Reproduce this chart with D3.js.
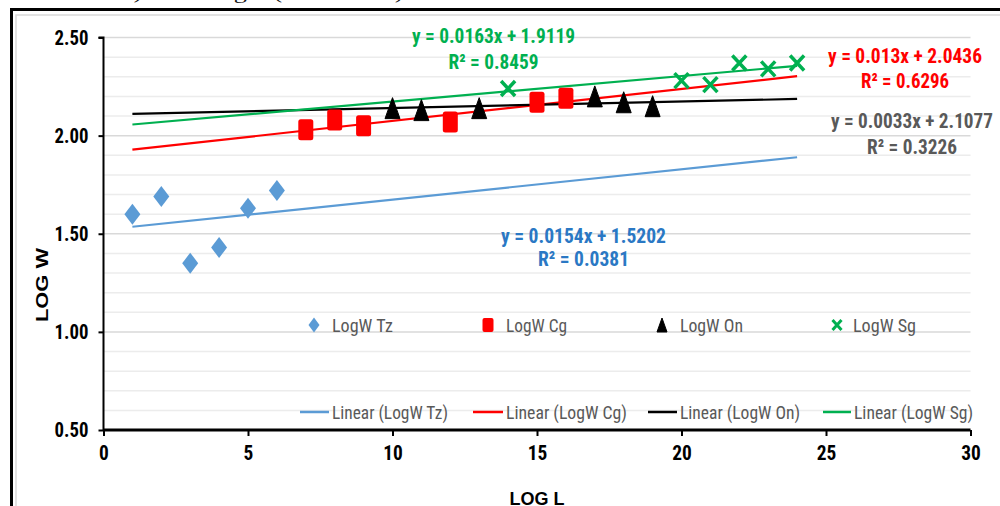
<!DOCTYPE html>
<html><head><meta charset="utf-8">
<script src="https://cdn.jsdelivr.net/npm/d3@7"></script>
<style>body{margin:0;background:#fff;overflow:hidden;} svg{display:block;}</style>
</head><body><svg id="c" width="1000" height="506"></svg>
<script>
// ---- data ----
const seriesNames = ["LogW Tz", "LogW Cg", "LogW On", "LogW Sg"];
const tzX = [1, 2, 3, 4, 5, 6];
const tzY = [1.60, 1.69, 1.35, 1.43, 1.63, 1.72];
const cgX = [7, 8, 9, 12, 15, 16];
const cgY = [2.03, 2.08, 2.05, 2.07, 2.17, 2.19];
const onX = [10, 11, 13, 17, 18, 19];
const onY = [2.14, 2.13, 2.14, 2.20, 2.17, 2.15];
const sgX = [14, 20, 21, 22, 23, 24];
const sgY = [2.24, 2.28, 2.26, 2.37, 2.34, 2.37];
// trendlines as drawn
const trendSlope = [0.0154, 0.0163, 0.0033, 0.013];
const trendIntercept = [1.5202, 1.9119, 2.1077, 2.0436];
const trendRange = [1, 24];
// equation labels
const eqLine = ["y = 0.0154x + 1.5202", "y = 0.013x + 2.0436", "y = 0.0033x + 2.1077", "y = 0.0163x + 1.9119"];
const r2Line = ["R² = 0.0381", "R² = 0.6296", "R² = 0.3226", "R² = 0.8459"];
const xTicks = [0, 5, 10, 15, 20, 25, 30];
const yTicks = [0.50, 1.00, 1.50, 2.00, 2.50];
const xTitle = "LOG L", yTitle = "LOG W";

// ---- styles ----
const colors = ["#5b9bd5", "#ff0000", "#000000", "#00b050"];
const eqColors = ["#2a78c4", "#ff0000", "#595959", "#00b050"];
const NARROW = "'Liberation Sans Narrow','Arial Narrow','Roboto Condensed','Liberation Sans',Arial,sans-serif";

const svg = d3.select("#c");
const x = d3.scaleLinear().domain([0, 30]).range([103.5, 970.5]);
const y = d3.scaleLinear().domain([0.5, 2.5]).range([430, 37.5]);

// top cut-off caption (only its lower edge shows)
svg.append("text").attr("x", 40).attr("y", -1).attr("font-family", "'Liberation Serif',serif")
  .attr("font-size", 17).attr("fill", "#111").attr("textLength", 370).attr("lengthAdjust", "spacingAndGlyphs")
  .text("Station 3) and Length (all stations).");

// frames
svg.append("path").attr("d", "M11.5,506 V9.5 H1000").attr("fill", "none").attr("stroke", "#000").attr("stroke-width", 3);
svg.append("path").attr("d", "M16,506 V15 H1000").attr("fill", "none").attr("stroke", "#d9d9d9").attr("stroke-width", 1.5);

// gridlines
const grid = d3.range(5, 26).map(d => d / 10);
svg.append("g").selectAll("line").data(grid).join("line")
  .attr("x1", x(0)).attr("x2", x(30))
  .attr("y1", d => y(d)).attr("y2", d => y(d))
  .attr("stroke", d => (Math.round(d * 10) % 5 === 0) ? "#d9d9d9" : "#ececec")
  .attr("stroke-width", 1.5);

const tickLen = s => s.split("").reduce((a, c) => a + (c === "." ? 4.5 : 9.8), 0);

// axes
const yAxis = d3.axisLeft(y).tickValues(yTicks).tickFormat(d3.format(".2f")).tickSize(5).tickPadding(10);
const gy = svg.append("g").attr("transform", `translate(${x(0)},0)`).call(yAxis);
gy.select(".domain").attr("stroke", "#000").attr("stroke-width", 2).attr("d", `M-5,${y(2.5)}H0V${y(0.5)}`);
gy.selectAll(".tick line").attr("stroke", "#000").attr("stroke-width", 2);
gy.selectAll(".tick text").attr("font-family", NARROW).attr("font-weight", "bold").attr("font-size", 21).attr("fill", "#000")
  .attr("textLength", function () { return tickLen(this.textContent); }).attr("lengthAdjust", "spacingAndGlyphs");

const xAxis = d3.axisBottom(x).tickValues(xTicks).tickFormat(d3.format("d")).tickSize(6).tickPadding(9);
const gx = svg.append("g").attr("transform", `translate(0,${y(0.5)})`).call(xAxis);
gx.select(".domain").attr("stroke", "#000").attr("stroke-width", 3).attr("d", `M${x(0)},0H${x(30)}`);
gx.selectAll(".tick line").attr("stroke", "#000").attr("stroke-width", 2);
gx.selectAll(".tick text").attr("font-family", NARROW).attr("font-weight", "bold").attr("font-size", 21).attr("fill", "#000")
  .attr("textLength", function () { return tickLen(this.textContent); }).attr("lengthAdjust", "spacingAndGlyphs");

// axis titles
svg.append("text").attr("transform", "translate(48,285) rotate(-90)").attr("text-anchor", "middle")
  .attr("font-family", "'Liberation Sans',Arial,sans-serif").attr("font-weight", "bold").attr("font-size", 17)
  .attr("textLength", 74).attr("lengthAdjust", "spacingAndGlyphs").text(yTitle);
svg.append("text").attr("x", (x(0) + x(30)) / 2).attr("y", 505).attr("text-anchor", "middle")
  .attr("font-family", "'Liberation Sans',Arial,sans-serif").attr("font-weight", "bold").attr("font-size", 18)
  .text(xTitle);

// trendlines
const trends = trendSlope.map((m, i) => ({ m, b: trendIntercept[i], c: colors[i] }));
svg.append("g").selectAll("line").data(trends).join("line")
  .attr("x1", x(trendRange[0])).attr("x2", x(trendRange[1]))
  .attr("y1", d => y(d.m * trendRange[0] + d.b)).attr("y2", d => y(d.m * trendRange[1] + d.b))
  .attr("stroke", d => d.c).attr("stroke-width", 2.2);

// marker shapes
function diamond(w, h) { return `M0,${-h/2}L${w/2},0L0,${h/2}L${-w/2},0Z`; }
function tri(w, h) { return `M0,${-h/2}L${w/2},${h/2}L${-w/2},${h/2}Z`; }
function cross(w, h) { return `M${-w/2},${-h/2}L${w/2},${h/2}M${w/2},${-h/2}L${-w/2},${h/2}`; }

const pts = (xs, ys) => xs.map((v, i) => ({ x: v, y: ys[i] }));
const g = svg.append("g");
g.selectAll(".tz").data(pts(tzX, tzY)).join("path").attr("class", "tz")
  .attr("transform", d => `translate(${x(d.x)},${y(d.y)})`).attr("d", diamond(16, 21)).attr("fill", colors[0]);
g.selectAll(".cg").data(pts(cgX, cgY)).join("rect").attr("class", "cg")
  .attr("x", d => x(d.x) - 7.5).attr("y", d => y(d.y) - 10.5).attr("width", 15).attr("height", 21)
  .attr("rx", 2.5).attr("fill", colors[1]);
g.selectAll(".on").data(pts(onX, onY)).join("path").attr("class", "on")
  .attr("transform", d => `translate(${x(d.x)},${y(d.y)})`).attr("d", tri(15, 21)).attr("fill", colors[2])
  .attr("stroke", "#000").attr("stroke-width", 1).attr("stroke-linejoin", "round");
g.selectAll(".sg").data(pts(sgX, sgY)).join("path").attr("class", "sg")
  .attr("transform", d => `translate(${x(d.x)},${y(d.y)})`).attr("d", cross(14, 15)).attr("fill", "none")
  .attr("stroke", colors[3]).attr("stroke-width", 3.5);

// equation labels
const eqPos = [[583.5, 243, 266, 165, 91], [905, 63, 88, 154, 88], [912, 128, 154, 162, 90], [493.5, 43, 69, 163, 90]];
eqLine.forEach((t, i) => {
  const [cx, b1, b2, w1, w2] = eqPos[i];
  [[t, b1, w1], [r2Line[i], b2, w2]].forEach(([s, by, w]) => {
    svg.append("text").attr("x", cx).attr("y", by).attr("text-anchor", "middle")
      .attr("font-family", NARROW).attr("font-weight", "bold").attr("font-size", 21).attr("fill", eqColors[i])
      .attr("textLength", w).attr("lengthAdjust", "spacingAndGlyphs").text(s);
  });
});

// legend
const legX = [314, 488, 662, 837];
const legTxtX = [332, 506, 680, 853];
const legW1 = [61, 61, 63, 63];
const legLineX = [[300, 329], [473, 503], [648, 677], [823, 851]];
const legTxt2X = [332, 506, 680, 854];
const legW2 = [116, 121, 120, 119];
const lg = svg.append("g");
seriesNames.forEach((n, i) => {
  const mx = legX[i], my = 325;
  if (i === 0) lg.append("path").attr("transform", `translate(${mx},${my})`).attr("d", diamond(11, 15)).attr("fill", colors[0]);
  if (i === 1) lg.append("rect").attr("x", mx - 5.5).attr("y", my - 7).attr("width", 11).attr("height", 14).attr("rx", 2).attr("fill", colors[1]);
  if (i === 2) lg.append("path").attr("transform", `translate(${mx},${my})`).attr("d", tri(10, 14)).attr("fill", "#000")
    .attr("stroke", "#000").attr("stroke-width", 1).attr("stroke-linejoin", "round");
  if (i === 3) lg.append("path").attr("transform", `translate(${mx},${my})`).attr("d", cross(9, 10)).attr("fill", "none")
    .attr("stroke", colors[3]).attr("stroke-width", 3);
  lg.append("text").attr("x", legTxtX[i]).attr("y", my + 6.5).attr("font-family", NARROW).attr("font-size", 18)
    .attr("fill", "#595959").attr("textLength", legW1[i]).attr("lengthAdjust", "spacingAndGlyphs").text(n);
  lg.append("line").attr("x1", legLineX[i][0]).attr("x2", legLineX[i][1]).attr("y1", 412).attr("y2", 412)
    .attr("stroke", colors[i]).attr("stroke-width", 2.5);
  lg.append("text").attr("x", legTxt2X[i]).attr("y", 418.5).attr("font-family", NARROW).attr("font-size", 18)
    .attr("fill", "#595959").attr("textLength", legW2[i]).attr("lengthAdjust", "spacingAndGlyphs").text(`Linear (${n})`);
});
</script></body></html>
